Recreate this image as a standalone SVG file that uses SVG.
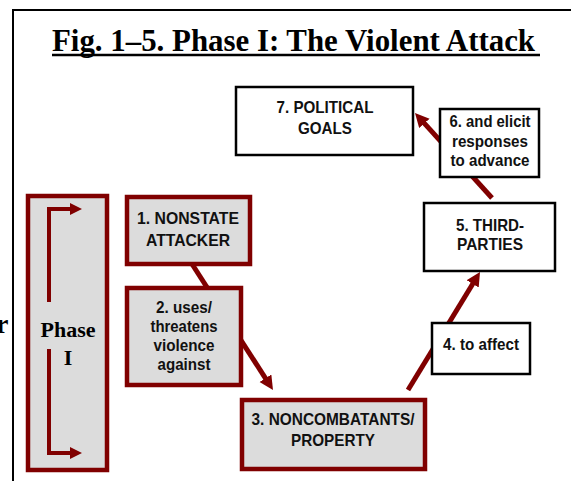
<svg xmlns="http://www.w3.org/2000/svg" width="571" height="481" viewBox="0 0 571 481">
<defs>
<style>
.frame{stroke:#000;stroke-width:2;fill:none}
.red{fill:#dcdcdc;stroke:#800000;stroke-width:4.5}
.blk{fill:#fff;stroke:#000;stroke-width:2.5}
.lbl{font-family:"Liberation Sans",Arial,sans-serif;font-weight:bold;font-size:16.5px;fill:#111;text-anchor:middle}
.serif{font-family:"Liberation Serif","Times New Roman",serif;font-weight:bold;fill:#000}
.conn{stroke:#800000;stroke-width:5;fill:none}
.brk{stroke:#800000;stroke-width:4;fill:none}
</style>
<marker id="ah" markerUnits="userSpaceOnUse" markerWidth="16" markerHeight="16" refX="4" refY="7" orient="auto">
<path d="M0,0 L14,7 L0,14 z" fill="#800000"/>
</marker>
<marker id="ahs" markerUnits="userSpaceOnUse" markerWidth="14" markerHeight="14" refX="2" refY="6" orient="auto">
<path d="M0,0 L12,6 L0,12 z" fill="#800000"/>
</marker>
</defs>
<rect width="571" height="481" fill="#fff"/>
<path class="frame" d="M13,481 V10 H571"/>
<text class="serif" x="-4" y="333" font-size="28" font-weight="normal">r</text>
<text class="serif" x="52" y="51" font-size="32" textLength="483" lengthAdjust="spacingAndGlyphs">Fig. 1–5. Phase I: The Violent Attack</text>
<line x1="52" y1="55" x2="540" y2="55" stroke="#000" stroke-width="2.5"/>

<g id="connectors">
<path class="conn" d="M192,264 L267.6,381.6" marker-end="url(#ah)"/>
<path class="conn" d="M408,390 L474.8,280.5" marker-end="url(#ah)"/>
<path class="conn" d="M492,198 L421.7,120.4" marker-end="url(#ah)"/>
</g>

<g id="phase">
<rect class="red" x="28" y="196" width="79" height="274"/>
<path class="brk" d="M49,302 V209 H72" marker-end="url(#ahs)"/>
<path class="brk" d="M49,349 V453 H72" marker-end="url(#ahs)"/>
<text class="serif" x="68" y="337" font-size="22" text-anchor="middle">Phase</text>
<text class="serif" x="68" y="365" font-size="22" text-anchor="middle">I</text>
</g>

<g id="n1">
<rect class="red" x="127" y="197" width="123" height="67"/>
<text class="lbl" x="188" y="224" textLength="102" lengthAdjust="spacingAndGlyphs">1. NONSTATE</text>
<text class="lbl" x="188" y="246" textLength="84" lengthAdjust="spacingAndGlyphs">ATTACKER</text>
</g>

<g id="n2">
<rect class="red" x="127" y="288" width="114" height="97"/>
<text class="lbl" x="184" y="313" textLength="56" lengthAdjust="spacingAndGlyphs">2. uses/</text>
<text class="lbl" x="184" y="332" textLength="67" lengthAdjust="spacingAndGlyphs">threatens</text>
<text class="lbl" x="184" y="351" textLength="61" lengthAdjust="spacingAndGlyphs">violence</text>
<text class="lbl" x="184" y="370" textLength="53" lengthAdjust="spacingAndGlyphs">against</text>
</g>

<g id="n3">
<rect class="red" x="242" y="400" width="183" height="69"/>
<text class="lbl" x="333" y="425" textLength="163" lengthAdjust="spacingAndGlyphs">3. NONCOMBATANTS/</text>
<text class="lbl" x="333" y="446" textLength="84" lengthAdjust="spacingAndGlyphs">PROPERTY</text>
</g>

<g id="n4">
<rect class="blk" x="432" y="323" width="98" height="51"/>
<text class="lbl" x="481" y="350" textLength="76" lengthAdjust="spacingAndGlyphs">4. to affect</text>
</g>

<g id="n5">
<rect class="blk" x="424" y="203" width="131" height="68"/>
<text class="lbl" x="490" y="231" textLength="68" lengthAdjust="spacingAndGlyphs">5. THIRD-</text>
<text class="lbl" x="490" y="250" textLength="66" lengthAdjust="spacingAndGlyphs">PARTIES</text>
</g>

<g id="n6">
<rect class="blk" x="440" y="109" width="99" height="68"/>
<text class="lbl" x="490" y="127" textLength="81" lengthAdjust="spacingAndGlyphs">6. and elicit</text>
<text class="lbl" x="490" y="147" textLength="76" lengthAdjust="spacingAndGlyphs">responses</text>
<text class="lbl" x="490" y="166" textLength="79" lengthAdjust="spacingAndGlyphs">to advance</text>
</g>

<g id="n7">
<rect class="blk" x="236" y="87" width="177" height="68"/>
<text class="lbl" x="325" y="113" textLength="97" lengthAdjust="spacingAndGlyphs">7. POLITICAL</text>
<text class="lbl" x="325" y="134" textLength="54" lengthAdjust="spacingAndGlyphs">GOALS</text>
</g>
</svg>
